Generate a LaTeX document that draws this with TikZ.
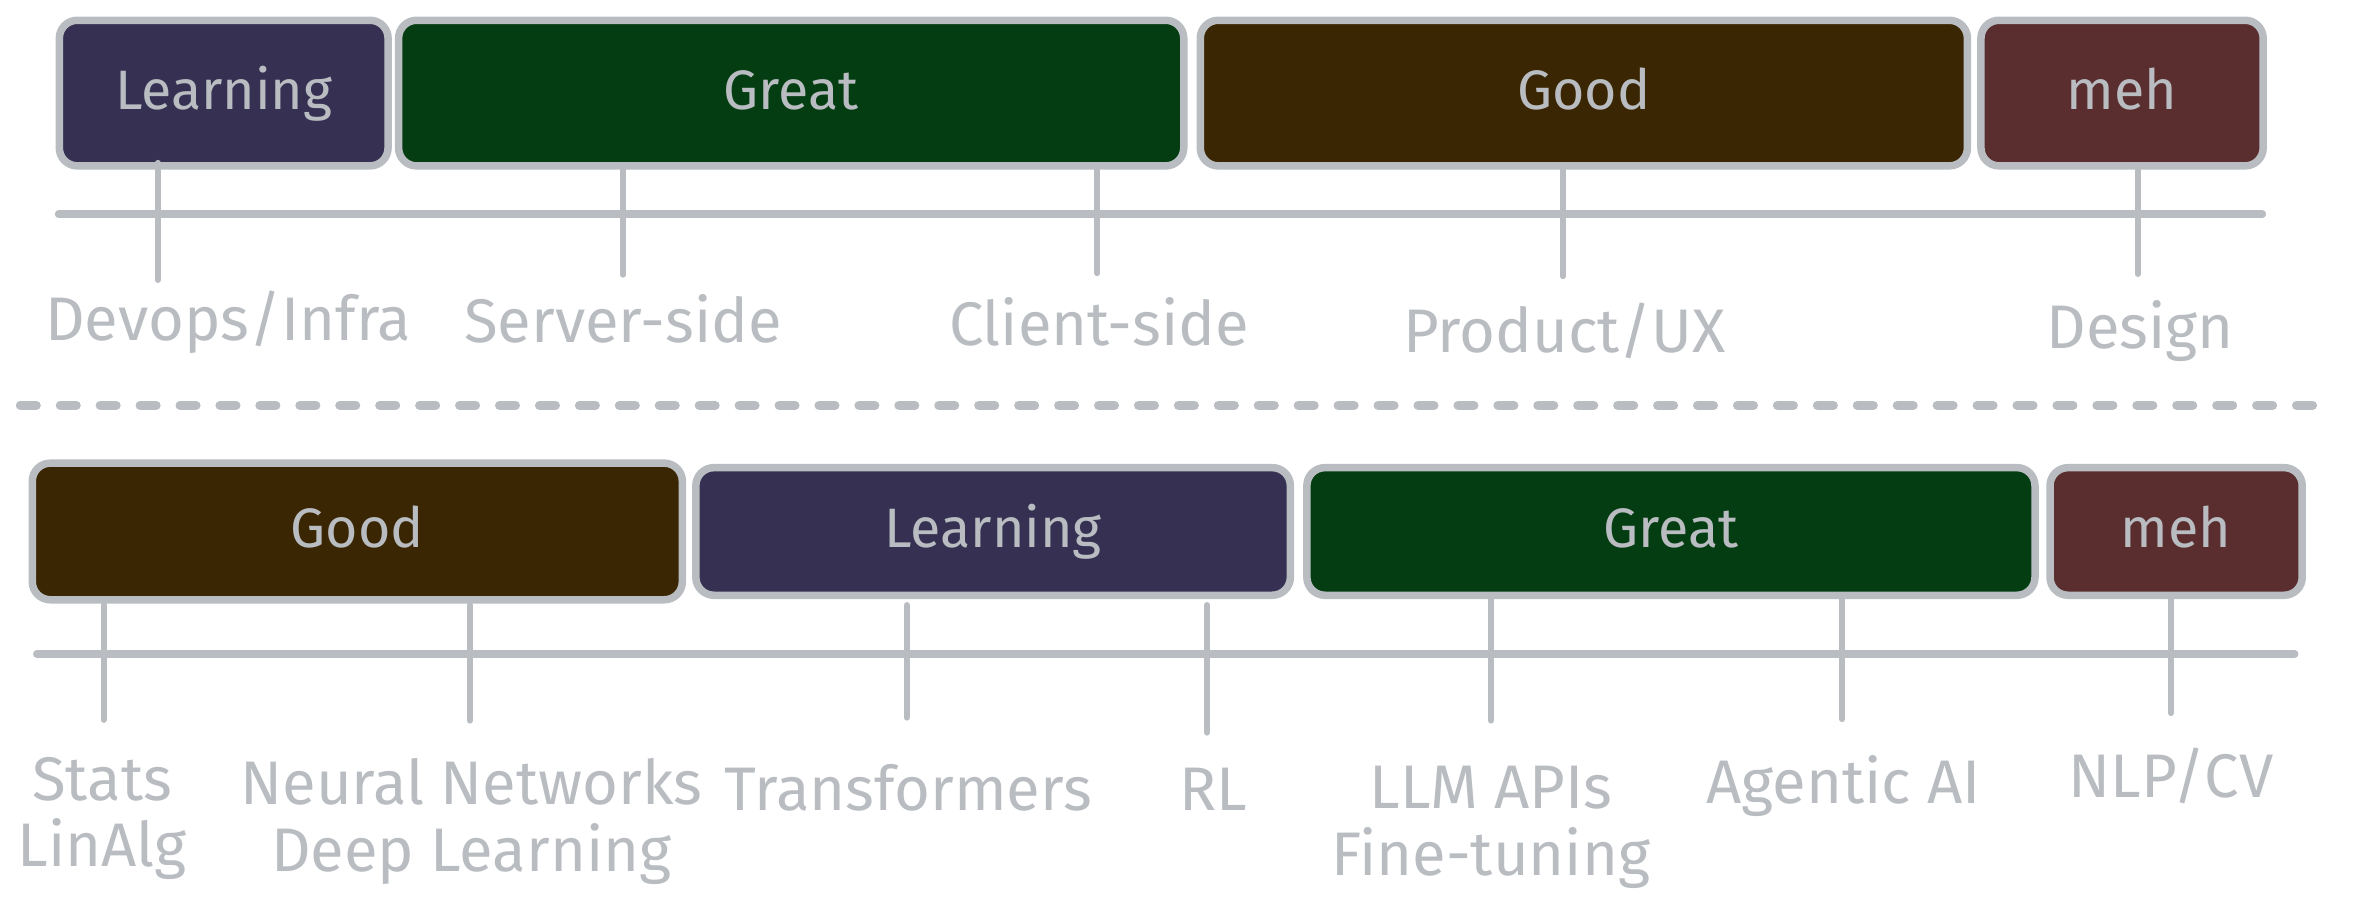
\documentclass[tikz,border=0pt]{standalone}
\usepackage{fontspec}
\setmainfont{Fira Sans}
\usetikzlibrary{positioning}
\definecolor{edgegray}{HTML}{B9BDC1}
\definecolor{learncol}{HTML}{363153}
\definecolor{greatcol}{HTML}{043D11}
\definecolor{goodcol}{HTML}{3A2603}
\definecolor{mehcol}{HTML}{5A2E2F}

\begin{document}
\begin{tikzpicture}[x=1pt, y=-1pt,
    rank/.style={draw=edgegray, line width=5pt, rounded corners=12pt, text=edgegray,
      font=\fontsize{37}{41}\selectfont, inner sep=0pt},
    axisline/.style={draw=edgegray, line width=5pt, line cap=round},
    tickline/.style={draw=edgegray, line width=4pt, line cap=round},
    skill/.style={text=edgegray, font=\fontsize{41}{44.5}\selectfont, inner sep=0pt, anchor=base, align=center}]
    \useasboundingbox (0,0) rectangle (1568,609);
    % web row
    \node [rank, fill=learncol, minimum width=219pt, minimum height=97pt] (webLearn) at (149,62) {};
    \node [rank, fill=greatcol, minimum width=523pt, minimum height=97pt] (webGreat) at (527,62) {};
    \node [rank, fill=goodcol, minimum width=511pt, minimum height=97pt] (webGood) at (1055,62) {};
    \node [rank, fill=mehcol, minimum width=188pt, minimum height=97pt] (webMeh) at (1413.5,62) {};
    \node [rank, draw=none, fill=none, anchor=base] at (webLearn.center |- 0,73) {Learning};
    \node [rank, draw=none, fill=none, anchor=base] at (webGreat.center |- 0,73) {Great};
    \node [rank, draw=none, fill=none, anchor=base] at (webGood.center |- 0,73) {Good};
    \node [rank, draw=none, fill=none, anchor=base] at (webMeh.center |- 0,73) {meh};
    \coordinate (webL) at (39,142.7);
    \coordinate (webR) at (1507,142.7);
    \draw [axisline] (webL) -- (webR);
    \foreach \x/\a/\b in {105/108.5/186.5, 415/113/183, 731/113/182, 1041/113/184, 1424/113/182.5}
      \draw [tickline] (\x,\a) -- (\x,\b);
    \node [skill] (devops) at (152,226.5) {Devops/Infra};
    \node [skill] (server) at (415,228) {Server-side};
    \node [skill] (client) at (732,230) {Client-side};
    \node [skill] (product) at (1042,234.5) {Product/UX};
    \node [skill] (design) at (1425.5,232) {Design};
    % separator
    \coordinate (sepL) at (13.5,270);
    \coordinate (sepR) at (1542,270);
    \draw [edgegray, line width=6pt, line cap=round, dash pattern=on 10.7pt off 15.9pt] (sepL) -- (sepR);
    % ml row
    \node [rank, fill=goodcol, minimum width=433pt, minimum height=91pt] (mlGood) at (238,354) {};
    \node [rank, fill=learncol, minimum width=396pt, minimum height=85pt] (mlLearn) at (661.5,354) {};
    \node [rank, fill=greatcol, minimum width=485pt, minimum height=85pt] (mlGreat) at (1113,354) {};
    \node [rank, fill=mehcol, minimum width=168pt, minimum height=85pt] (mlMeh) at (1449.5,354) {};
    \node [rank, draw=none, fill=none, anchor=base] at (mlGood.center |- 0,365) {Good};
    \node [rank, draw=none, fill=none, anchor=base] at (mlLearn.center |- 0,365) {Learning};
    \node [rank, draw=none, fill=none, anchor=base] at (mlGreat.center |- 0,365) {Great};
    \node [rank, draw=none, fill=none, anchor=base] at (mlMeh.center |- 0,365) {meh};
    \coordinate (mlL) at (24.5,435.6);
    \coordinate (mlR) at (1528.5,435.6);
    \draw [axisline] (mlL) -- (mlR);
    \foreach \x/\a/\b in {69/403/479.5, 313/403/480, 604/403/478, 804/403/488, 993/398/480, 1227/398/479, 1446/398/475}
      \draw [tickline] (\x,\a) -- (\x,\b);
    \node [skill] (stats) at (68,577.5) {Stats\\LinAlg};
    \node [skill] (neural) at (314,580.5) {Neural Networks\\Deep Learning};
    \node [skill] (transf) at (605,540) {Transformers};
    \node [skill] (rl) at (808,540) {RL};
    \node [skill] (llm) at (993,583) {LLM APIs\\Fine-tuning};
    \node [skill] (agentic) at (1228,535) {Agentic AI};
    \node [skill] (nlpcv) at (1446,531) {NLP/CV};
  \end{tikzpicture}
\end{document}
